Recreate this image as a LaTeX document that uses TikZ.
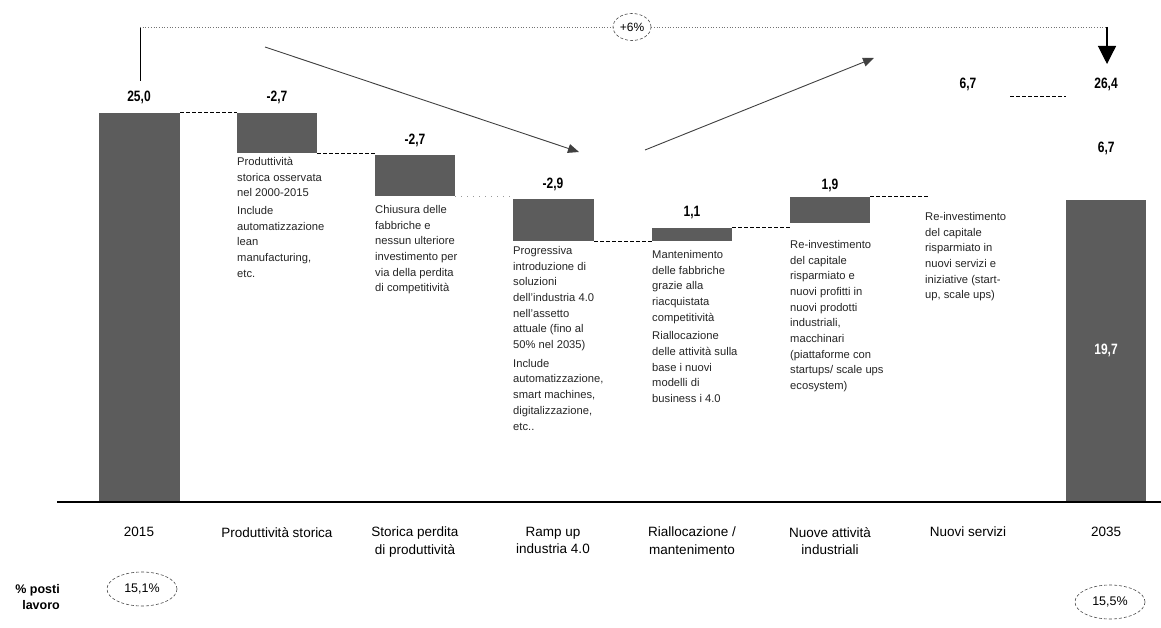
\documentclass[tikz,border=0pt]{standalone}
\usepackage{fontspec}
\setmainfont{Liberation Sans}
\newfontfamily\narrowfont{Liberation Sans}[FakeStretch=0.8]
\usetikzlibrary{arrows.meta,shapes.geometric}
\begin{document}
\begin{tikzpicture}[x=1pt,y=-1pt,
  barbox/.style={fill=black!64,draw=none,inner sep=0,anchor=north west},
  ghost/.style={draw=none,fill=none,inner sep=0,anchor=north west},
  val/.style={font=\narrowfont\bfseries\fontsize{15}{16}\selectfont,inner sep=0},
  desc/.style={anchor=north west,align=left,inner sep=0,text=black!85,font=\fontsize{11.2}{15.7}\selectfont},
  cat/.style={anchor=north,align=center,inner sep=0,font=\fontsize{13.5}{17.5}\selectfont},
  conn/.style={dashed,dash pattern=on 4pt off 2pt,line width=1pt},
  trend/.style={-{Triangle[length=11pt,width=9pt]},draw=black!75,line width=0.9pt},
  pct/.style={ellipse,draw=black!70,densely dashed,line width=0.6pt,minimum width=70pt,minimum height=34pt,inner sep=0,font=\fontsize{12.5}{14}\selectfont}
]
\useasboundingbox[fill=white] (0,0) rectangle (1161,628);

% bars
\node[barbox,minimum width=81pt,minimum height=389pt] (b1) at (99,113) {};
\node[barbox,minimum width=80pt,minimum height=40pt] (b2) at (237,113) {};
\node[barbox,minimum width=80pt,minimum height=41pt] (b3) at (375,155) {};
\node[barbox,minimum width=81pt,minimum height=42pt] (b4) at (513,199) {};
\node[barbox,minimum width=80pt,minimum height=13pt] (b5) at (652,228) {};
\node[barbox,minimum width=80pt,minimum height=26pt] (b6) at (790,197) {};
\node[ghost,minimum width=80pt,minimum height=101pt] (b7) at (928,96) {};
\node[ghost,minimum width=80pt,minimum height=104pt] (b8t) at (1066,96) {};
\node[barbox,minimum width=80pt,minimum height=302pt] (b8) at (1066,200) {};

% axis
\coordinate (axl) at (57,502);
\coordinate (axr) at (1161,502);
\draw[line width=1.8pt] (axl) -- (axr);

% connectors
\draw[conn] (b1.north east) -- (b2.north west);
\draw[conn] (b2.south east) -- (b2.south east -| b3.west);
\draw[conn,draw=black!40,dash pattern=on 1pt off 5pt] (b3.south east) -- (b3.south east -| b4.west);
\draw[conn] (b4.south east) -- (b4.south east -| b5.west);
\draw[conn] (b5.north east) -- (b5.north east -| b6.west);
\draw[conn] (b6.north east) -- (b6.north east -| b7.west);
\draw[conn] ([xshift=2pt,yshift=-1pt]b7.north east) -- ([yshift=-1pt]b8t.north west);

% values
\node[val] (v1) at (139,97) {25,0};
\node[val] (v2) at (277,97) {-2,7};
\node[val] (v3) at (415,140) {-2,7};
\node[val] (v4) at (553,184) {-2,9};
\node[val] (v5) at (692,213) {1,1};
\node[val] (v6) at (830,185) {1,9};
\node[val] (v7) at (968,84) {6,7};
\node[val] (v8) at (1106,84) {26,4};
\node[val] (v8t) at (b8t.center) {6,7};
\node[val,text=white] (v8b) at (1106,350) {19,7};

% descriptions
\node[desc] (d2) at (237,157) {Produttività\\storica osservata\\nel 2000-2015\\[2pt]Include\\automatizzazione\\lean\\manufacturing,\\etc.};
\node[desc] (d3) at (375,205) {Chiusura delle\\fabbriche e\\nessun ulteriore\\investimento per\\via della perdita\\di competitività};
\node[desc] (d4) at (513,246) {Progressiva\\introduzione di\\soluzioni\\dell'industria 4.0\\nell'assetto\\attuale (fino al\\50\% nel 2035)\\[3pt]Include\\automatizzazione,\\smart machines,\\digitalizzazione,\\etc..};
\node[desc] (d5) at (652,250) {Mantenimento\\delle fabbriche\\grazie alla\\riacquistata\\competitività\\[3pt]Riallocazione\\delle attività sulla\\base i nuovi\\modelli di\\business i 4.0};
\node[desc] (d6) at (790,240) {Re-investimento\\del capitale\\risparmiato e\\nuovi profitti in\\nuovi prodotti\\industriali,\\macchinari\\(piattaforme con\\startups/ scale ups\\ecosystem)};
\node[desc] (d7) at (925,212) {Re-investimento\\del capitale\\risparmiato in\\nuovi servizi e\\iniziative (start-\\up, scale ups)};

% categories
\node[cat] (c1) at (139,527) {2015};
\node[cat] (c2) at (277,527) {Produttività storica};
\node[cat] (c3) at (415,527) {Storica perdita\\di produttività};
\node[cat] (c4) at (553,527) {Ramp up\\industria 4.0};
\node[cat] (c5) at (692,527) {Riallocazione /\\mantenimento};
\node[cat] (c6) at (830,527) {Nuove attività\\industriali};
\node[cat] (c7) at (968,527) {Nuovi servizi};
\node[cat] (c8) at (1106,527) {2035};

% percent row
\node[anchor=east,align=right,inner sep=0,font=\bfseries\fontsize{12.5}{16.5}\selectfont] (pl) at (60,597) {\% posti\\lavoro};
\node[pct] (p1) at (142,589) {15,1\%};
\node[pct] (p2) at (1110,602) {15,5\%};

% top bracket
\coordinate (tl) at (140,81);
\coordinate (tt) at (140,27);
\coordinate (tr) at (1107,27);
\coordinate (ta) at (1107,64);
\node[ellipse,draw=black!70,densely dashed,line width=0.6pt,minimum width=38pt,minimum height=27pt,inner sep=0,font=\fontsize{12}{13}\selectfont] (g) at (632,27) {+6\%};
\draw[line width=1pt] (tl) -- (tt);
\draw[black!55,dotted,line width=0.7pt] (tt) -- (g.west);
\draw[black!55,dotted,line width=0.7pt] (g.east) -- (tr);
\draw[line width=1.2pt,-{Triangle[length=18pt,width=18pt]}] (tr) -- (ta);

% trend arrows
\coordinate (a1s) at (265,47);
\coordinate (a1e) at (579,152);
\coordinate (a2s) at (645,150);
\coordinate (a2e) at (874,58);
\draw[trend] (a1s) -- (a1e);
\draw[trend] (a2s) -- (a2e);
\end{tikzpicture}
\end{document}
